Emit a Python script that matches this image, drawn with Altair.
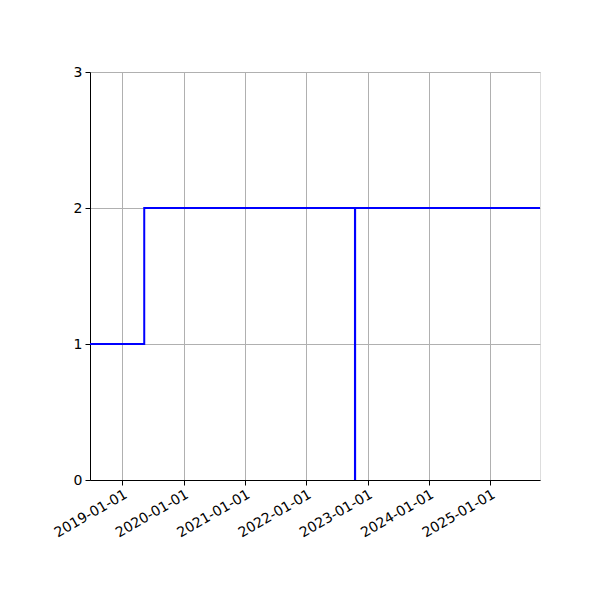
import altair as alt
import pandas as pd

dates = ["2018-06-23", "2019-05-12", "2022-10-18", "2022-10-19", "2025-10-24"]
values = [1, 2, 0, 2, 2]

df = pd.DataFrame({"date": dates, "value": values})

tick_years = [2019, 2020, 2021, 2022, 2023, 2024, 2025]
y_ticks = [0, 1, 2, 3]

x_axis = alt.Axis(
    values=[alt.DateTime(year=y, month=1, date=1, utc=True) for y in tick_years],
    labelExpr="utcFormat(datum.value, '%Y-%m-%d')",
    labelAngle=-30,
    labelAlign="right",
    labelBaseline="top",
    labelFont="DejaVu Sans",
    labelFontSize=14,
    labelColor="black",
    labelPadding=2,
    labelOverlap=False,
    tickColor="black",
    tickSize=5,
    domainColor="black",
    gridColor="#b0b0b0",
    gridWidth=1,
    title=None,
)
y_axis = alt.Axis(
    values=y_ticks,
    format="d",
    labelFont="DejaVu Sans",
    labelFontSize=14,
    labelColor="black",
    labelPadding=3,
    tickColor="black",
    tickSize=5,
    domainColor="black",
    gridColor="#b0b0b0",
    gridWidth=1,
    title=None,
)

chart = (
    alt.Chart(df)
    .mark_line(interpolate="step-after", color="#0000ff", strokeWidth=2, clip=True)
    .encode(
        x=alt.X(
            "date:T",
            scale=alt.Scale(
                type="utc",
                domain=[
                    alt.DateTime(year=2018, month=6, date=23, utc=True),
                    alt.DateTime(year=2025, month=10, date=24, utc=True),
                ],
                nice=False,
            ),
            axis=x_axis,
        ),
        y=alt.Y("value:Q", scale=alt.Scale(domain=[0, 3], nice=False), axis=y_axis),
    )
    .properties(
        width=450,
        height=408,
        autosize=alt.AutoSizeParams(type="none"),
        padding={"left": 82, "top": 64, "right": 50, "bottom": 100},
    )
    .configure_view(stroke="black", strokeWidth=1)
    .configure(background="white")
)

chart.save("out.html", embed_options={"renderer": "svg", "actions": False})
